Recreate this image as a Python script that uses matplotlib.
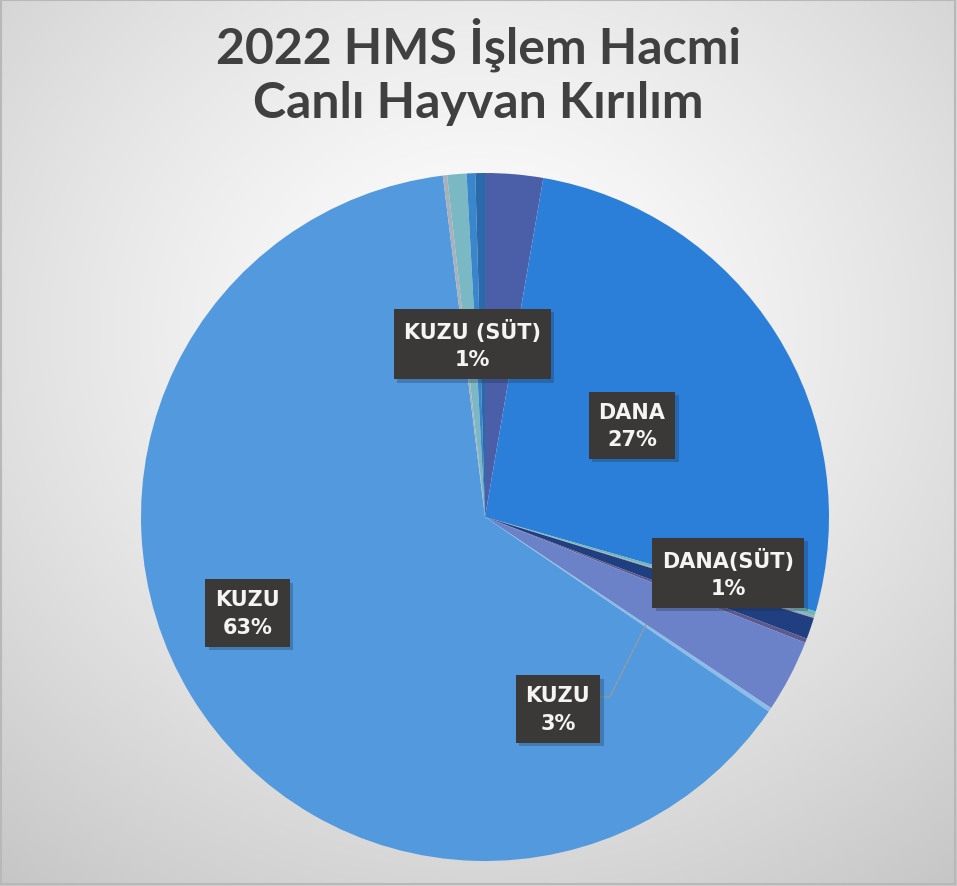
import numpy as np
import matplotlib
matplotlib.use("Agg")
import matplotlib.pyplot as plt
import matplotlib.patheffects as pe

# ---- data (clockwise from 12 o'clock) ----
categories = ["KUZU (SÜT, diğer)", "DANA", "DANA (diğer 1)", "DANA (diğer 2)", "DANA(SÜT)",
              "DANA (diğer 3)", "KUZU", "KUZU (diğer)", "KUZU ", "KUZU (diğer 2)",
              "KUZU (SÜT)", "DANA (diğer 4)", "DANA (diğer 5)"]
values = [2.7, 26.6, 0.22, 0.10, 1.0, 0.20, 3.4, 0.20, 63.2, 0.20, 0.9, 0.40, 0.45]
label_names = ["", "DANA", "", "", "DANA(SÜT)", "", "KUZU", "", "KUZU", "", "KUZU (SÜT)", "", ""]
colors = ["#4b5ea8", "#2b7fd8", "#6fb8b8", "#a0a8b8", "#1f3f80", "#5a5a90", "#6b82c8",
          "#8cbcea", "#5299dd", "#a8b0bc", "#7ab8c4", "#3a86cc", "#2a6aaa"]
# label placement (angle clockwise from top in degrees, radius fraction)
label_pos = {1: (58.0, 0.504), 4: (102.9, 0.725), 6: (159.2, 0.597), 8: (248.0, 0.745), 10: (355.7, 0.504)}

W, H = 957, 887
fig = plt.figure(figsize=(W / 100, H / 100), dpi=100)

# background gradient
bg = fig.add_axes([0, 0, 1, 1])
yy, xx = np.mgrid[0:H, 0:W]
d = np.sqrt(((xx - 480) / 700.0) ** 2 + ((yy - 330) / 650.0) ** 2)
g = np.clip(1.0 - 0.20 * d ** 1.3, 0, 1)
img = np.dstack([g, g, g])
bg.imshow(img, extent=[0, W, H, 0], aspect="auto")
bg.set_xlim(0, W)
bg.set_ylim(H, 0)
bg.axis("off")
bg.add_patch(plt.Rectangle((1, 1), W - 3, H - 3, fill=False, edgecolor="#b8b8b8", lw=1.5))

# title
title_kw = dict(ha="center", va="center", fontsize=36, fontweight="bold", color="#404040",
                family=["Lato", "DejaVu Sans"])
bg.text(478, 45, "2022 HMS İşlem Hacmi", **title_kw)
bg.text(478, 103, "Canlı Hayvan Kırılım", **title_kw)

# pie
cx, cy, R = 485, 518, 344
ax = fig.add_axes([(cx - R) / W, (H - cy - R) / H, 2 * R / W, 2 * R / H])
wedges, _ = ax.pie(values, colors=colors, startangle=90, counterclock=False,
                   wedgeprops=dict(linewidth=0), radius=1.0)
ax.set_xlim(-1, 1)
ax.set_ylim(-1, 1)
ax.set_aspect("equal")
ax.axis("off")

total = sum(values)
for i, (ang, r) in label_pos.items():
    pct = round(values[i] / total * 100)
    th = np.deg2rad(90 - ang)
    x, y = r * np.cos(th), r * np.sin(th)
    s = f"{label_names[i]}\n{pct}%"
    t = ax.text(x, y, s, color="#f4f4f4", ha="center", va="center", fontsize=15,
                fontweight="bold", family=["DejaVu Sans"], linespacing=1.45,
                bbox=dict(boxstyle="square,pad=0.48", facecolor="#3b3938", edgecolor="none"),
                zorder=5)
    t.get_bbox_patch().set_path_effects([
        pe.SimplePatchShadow(offset=(2.5, -2.5), shadow_rgbFace="#1a2a40", alpha=0.28),
        pe.Normal()])

# leader line for KUZU 3%
w = wedges[6]
th_end = np.deg2rad(w.theta1)
ang_l, r_l = label_pos[6]
thl = np.deg2rad(90 - ang_l)
lx, ly = r_l * np.cos(thl), r_l * np.sin(thl)
ax.plot([lx + 0.116, lx + 0.151, 0.563 * np.cos(th_end)],
        [ly + 0.035, ly + 0.035, 0.563 * np.sin(th_end)],
        color="#8f9aa8", lw=1, zorder=3)

fig.savefig("out.png", dpi=100)
